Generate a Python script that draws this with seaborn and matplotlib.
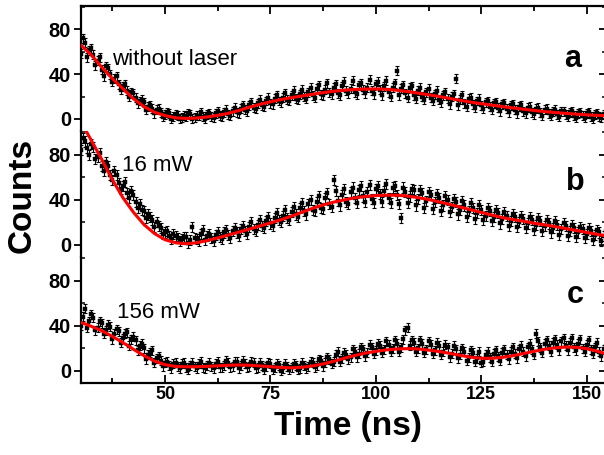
import numpy as np
import pandas as pd
import matplotlib
matplotlib.use("Agg")
import matplotlib.pyplot as plt
import seaborn as sns
from matplotlib.ticker import MultipleLocator

# ---------------- data ----------------
time_int = [30 + k for k in range(125)]          # 30 ... 154
time_half = [30.5 + k for k in range(125)]       # 30.5 ... 154.5

counts_a = [58, 68, 61, 57, 52, 44, 47, 40, 36, 31, 29, 25, 24, 19, 16, 15, 11, 9, 8, 6,
            4, 5, 2, 3, 1, 2, 4, 1, 3, 2, 4, 2, 5, 3, 6, 4, 7, 6, 9, 8,
            12, 10, 14, 12, 16, 14, 18, 16, 19, 17, 21, 18, 22, 20, 24, 21, 27, 22, 26, 24,
            28, 23, 29, 25, 27, 24, 30, 26, 28, 25, 31, 26, 29, 24, 28, 43, 27, 23, 28, 21,
            25, 20, 24, 19, 22, 17, 21, 18, 20, 36, 17, 14, 18, 13, 16, 12, 15, 11, 14, 10,
            13, 9, 12, 8, 11, 7, 10, 6, 9, 6, 8, 5, 7, 4, 7, 4, 6, 3, 5, 3,
            5, 2, 4, 2, 4]
counts_a_half = [72, 55, 63, 48, 55, 38, 45, 33, 38, 26, 31, 20, 23, 14, 17, 8, 12, 5, 9, 2,
                 6, 0, 4, 0, 3, 5, 0, 3, 6, 0, 5, 1, 7, 2, 8, 3, 10, 5, 12, 7,
                 15, 9, 17, 11, 19, 13, 21, 15, 23, 16, 25, 17, 26, 18, 28, 19, 30, 21, 32, 22,
                 31, 21, 33, 23, 34, 22, 32, 23, 35, 22, 33, 21, 34, 20, 32, 21, 30, 19, 29, 18,
                 28, 17, 27, 16, 25, 15, 24, 13, 22, 12, 21, 11, 19, 10, 18, 9, 16, 8, 15, 7,
                 14, 6, 13, 5, 12, 5, 11, 4, 10, 3, 9, 3, 8, 2, 7, 2, 7, 1, 6, 1,
                 6, 0, 5, 1, 4]

counts_b = [84, 92, 80, 87, 78, 70, 74, 62, 66, 55, 52, 46, 48, 38, 36, 30, 27, 22, 20, 15,
            11, 8, 10, 6, 5, 7, 4, 6, 3, 13, 8, 6, 9, 7, 11, 9, 12, 11, 14, 12,
            16, 14, 18, 17, 21, 19, 24, 22, 26, 24, 29, 27, 33, 30, 36, 31, 38, 33, 42, 36,
            58, 39, 44, 38, 47, 42, 49, 43, 47, 41, 50, 45, 48, 42, 51, 44, 24, 47, 43, 49,
            41, 46, 39, 44, 38, 42, 35, 40, 34, 38, 31, 35, 30, 33, 28, 31, 26, 30, 25, 28,
            23, 26, 21, 25, 20, 23, 19, 22, 18, 21, 17, 19, 15, 18, 14, 17, 12, 15, 11, 14,
            10, 12, 9, 11, 8]
counts_b_half = [95, 86, 90, 76, 82, 66, 70, 58, 62, 50, 56, 42, 44, 33, 31, 24, 25, 16, 17, 10,
                 12, 5, 8, 3, 7, 2, 16, 5, 10, 4, 10, 3, 11, 5, 13, 6, 15, 8, 17, 10,
                 20, 12, 22, 15, 25, 17, 28, 20, 31, 22, 34, 25, 37, 27, 40, 30, 43, 32, 46, 34,
                 48, 35, 50, 36, 51, 37, 52, 38, 53, 37, 52, 38, 54, 37, 52, 36, 51, 37, 50, 35,
                 49, 33, 47, 32, 45, 30, 43, 29, 41, 27, 39, 25, 37, 23, 35, 22, 33, 21, 31, 19,
                 29, 17, 27, 16, 26, 15, 25, 13, 24, 12, 22, 11, 21, 9, 19, 8, 18, 7, 16, 6,
                 15, 4, 13, 3, 12]

counts_c = [40, 55, 44, 47, 38, 42, 36, 39, 33, 35, 29, 34, 28, 27, 22, 20, 14, 18, 11, 9,
            7, 5, 6, 4, 6, 3, 5, 4, 6, 3, 5, 4, 6, 3, 5, 7, 4, 8, 5, 6,
            4, 7, 3, 5, 4, 6, 3, 5, 2, 4, 3, 5, 2, 5, 4, 7, 5, 9, 7, 10,
            8, 17, 11, 14, 12, 17, 15, 19, 16, 21, 18, 22, 19, 23, 20, 24, 21, 36, 22, 25,
            20, 24, 19, 23, 18, 22, 17, 21, 15, 19, 14, 17, 12, 16, 11, 7, 14, 12, 15, 13,
            16, 14, 17, 15, 19, 17, 21, 19, 33, 21, 24, 22, 25, 23, 26, 22, 25, 21, 24, 20,
            23, 19, 21, 17, 19]
counts_c_half = [48, 38, 50, 36, 44, 33, 41, 28, 37, 25, 33, 22, 30, 18, 24, 10, 16, 7, 13, 4,
                 8, 2, 7, 2, 7, 1, 7, 2, 8, 2, 7, 2, 8, 3, 9, 3, 8, 2, 9, 3,
                 8, 2, 7, 1, 7, 1, 6, 0, 6, 1, 6, 1, 7, 2, 8, 3, 10, 4, 12, 6,
                 14, 8, 16, 10, 19, 12, 21, 13, 23, 15, 24, 16, 26, 17, 27, 17, 28, 38, 27, 17,
                 27, 16, 26, 15, 25, 14, 23, 12, 22, 11, 20, 9, 18, 8, 17, 8, 17, 8, 18, 9,
                 19, 10, 21, 11, 22, 13, 24, 14, 26, 16, 27, 17, 28, 18, 29, 18, 29, 18, 28, 17,
                 27, 15, 25, 13, 22]

err_a, err_b, err_c = 4.0, 4.5, 4.0

fit_time = [30, 32.5, 35, 37.5, 40, 42.5, 45, 47.5, 50, 52.5, 55, 57.5, 60, 62.5, 65, 67.5,
            70, 72.5, 75, 77.5, 80, 82.5, 85, 87.5, 90, 92.5, 95, 97.5, 100, 102.5, 105,
            107.5, 110, 112.5, 115, 117.5, 120, 122.5, 125, 127.5, 130, 132.5, 135, 137.5,
            140, 142.5, 145, 147.5, 150, 152.5, 154.5]
fit_a = [66, 57, 46, 36, 27, 18, 11, 6, 3, 1, 0.5, 0.8, 1.8, 3.2, 5, 7.5,
         10.5, 13, 15.3, 17.3, 19, 20.5, 22, 23.5, 24.7, 25.6, 26.2, 26.6, 26.7, 26.4, 25.6,
         24.4, 23, 21.5, 20, 18.3, 16.6, 15, 13.6, 12.3, 11, 9.8, 8.7, 7.6,
         6.6, 5.7, 5, 4.3, 3.7, 3.2, 2.9]
fit_b = [110, 93, 76, 58, 42, 29, 18, 10, 4.5, 1.8, 0.9, 1.8, 3.8, 6.2, 8.7, 11.3,
         14, 16.8, 19.5, 22.3, 25.5, 29, 32.5, 35.5, 38, 40, 41.8, 43, 43.8, 44.2, 44.1,
         43.4, 42, 40.3, 38.2, 36, 33.6, 31.2, 28.8, 26.5, 24.2, 22.5, 21, 19.2,
         17.8, 16.2, 14.5, 12.8, 11, 9.3, 8]
fit_c = [43, 39.5, 35.5, 30.5, 25, 19, 13.3, 8.5, 5.3, 3.8, 3.4, 3.5, 3.8, 4.3, 4.8, 5,
         4.8, 4.2, 3.5, 2.8, 2.5, 3, 4.2, 6, 8.3, 11, 13.5, 15.6, 17.2, 18.5, 19.3,
         19.6, 19.3, 18.3, 17, 15.4, 13.6, 12, 11, 11, 11.8, 13.3, 15.2, 17.2,
         19, 20.3, 21, 20.8, 19.6, 17.3, 15]

panel_labels = ["without laser", "16 mW", "156 mW"]
panel_letters = ["a", "b", "c"]
y_ticks = [0, 40, 80]
x_ticks = [50, 75, 100, 125, 150]

for lst in (counts_a, counts_b, counts_c, counts_a_half, counts_b_half, counts_c_half):
    assert len(lst) == 125, len(lst)

# ---------------- style ----------------
sns.set_style("ticks")
plt.rcParams["font.family"] = ["Liberation Sans", "DejaVu Sans"]
for key in ("text.color", "axes.labelcolor", "xtick.color", "ytick.color", "axes.edgecolor"):
    plt.rcParams[key] = "black"

W, H = 604, 455
fig = plt.figure(figsize=(W / 100, H / 100), dpi=100)

left_px, right_px, top_px, bot_px = 80.7, 605.7, 5.5, 383.0
ph = (bot_px - top_px) / 3.0
axes = []
for i in range(3):
    y0 = 1 - (top_px + (i + 1) * ph) / H
    ax = fig.add_axes([left_px / W, y0, (right_px - left_px) / W, ph / H])
    axes.append(ax)

series = [(counts_a, counts_a_half, err_a, fit_a),
          (counts_b, counts_b_half, err_b, fit_b),
          (counts_c, counts_c_half, err_c, fit_c)]
label_pos = [(37.4, 53), (39.8, 71), (38.6, 52)]
letter_pos = [(146.6, 53), (147.2, 56), (147.2, 67)]

for i, ax in enumerate(axes):
    cnt, cnt_h, err, fit = series[i]
    df = pd.DataFrame({"t": time_int + time_half, "c": cnt + cnt_h})
    ax.errorbar(df["t"], df["c"], yerr=err, fmt="none", ecolor="black",
                elinewidth=0.8, capsize=1.5, capthick=0.8, zorder=2)
    sns.scatterplot(data=df, x="t", y="c", ax=ax, marker="s", s=8,
                    color="black", edgecolor="black", linewidth=0.3, zorder=3, legend=False)
    fdf = pd.DataFrame({"t": fit_time, "f": fit})
    sns.lineplot(data=fdf, x="t", y="f", ax=ax, color="#ff0000", linewidth=2.2,
                 zorder=4, legend=False)

    ax.set_xlim(30, 154.5)
    ax.set_ylim(-11, 101)
    ax.set_xlabel("")
    ax.set_ylabel("")
    ax.set_yticks(y_ticks)
    ax.yaxis.set_minor_locator(MultipleLocator(20))
    ax.set_xticks(x_ticks)
    ax.xaxis.set_minor_locator(MultipleLocator(12.5))
    for s in ax.spines.values():
        s.set_linewidth(1.6)
        s.set_color("black")
    ax.spines["top"].set_visible(i == 0)
    ax.spines["bottom"].set_visible(i == 2)
    ax.spines["right"].set_visible(True)

    ax.tick_params(axis="y", which="major", direction="out", length=5, width=1.3,
                   left=True, right=False, labelsize=14.5, pad=2, colors="black")
    ax.tick_params(axis="y", which="minor", direction="in", length=3, width=1.1,
                   left=True, right=False)
    for lab in ax.get_yticklabels():
        lab.set_fontweight("bold")

    ax.tick_params(axis="x", which="both", direction="in", width=1.3,
                   top=(i == 0), bottom=(i == 2), labelbottom=(i == 2), labeltop=False,
                   labelsize=13, pad=2.5, colors="black")
    ax.tick_params(axis="x", which="major", length=6)
    ax.tick_params(axis="x", which="minor", length=3.5)
    for lab in ax.get_xticklabels():
        lab.set_fontweight("bold")

    sec = ax.secondary_yaxis("right")
    sec.set_yticks(y_ticks)
    sec.yaxis.set_minor_locator(MultipleLocator(20))
    sec.tick_params(which="major", direction="in", length=5, width=1.3, labelright=False)
    sec.tick_params(which="minor", direction="in", length=3, width=1.1)
    sec.spines["right"].set_linewidth(1.6)

    ax.text(label_pos[i][0], label_pos[i][1], panel_labels[i], fontsize=16,
            ha="left", va="center", color="black")
    ax.text(letter_pos[i][0], letter_pos[i][1], panel_letters[i], fontsize=22,
            fontweight="bold", ha="center", va="center", color="black")

fig.text(22 / W, 1 - 195 / H, "Counts", rotation=90, ha="center", va="center",
         fontsize=24, fontweight="bold", color="black")
fig.text(348 / W, 1 - 426 / H, "Time (ns)", ha="center", va="center",
         fontsize=24, fontweight="bold", color="black")

fig.savefig("out.png", dpi=100)
